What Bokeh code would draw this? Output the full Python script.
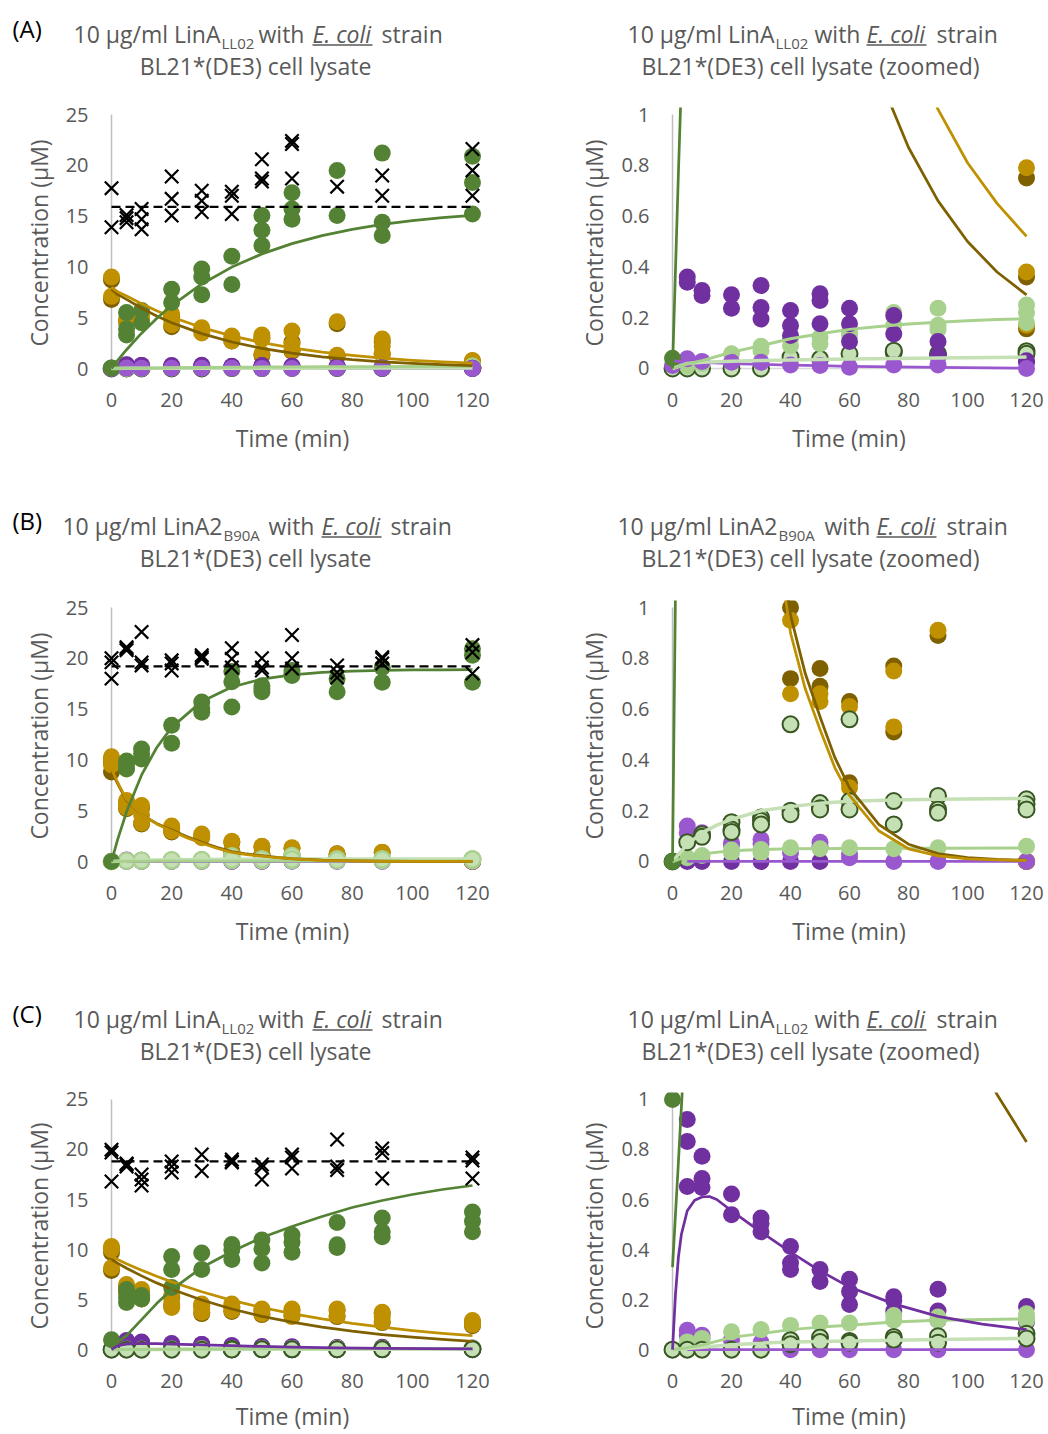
from bokeh.plotting import figure
from bokeh.layouts import column, row
from bokeh.models import Range1d, FixedTicker, NumeralTickFormatter
from bokeh.core.properties import value
from bokeh.embed import file_html
from bokeh.resources import INLINE

FONT = "Open Sans"
GREY = "#595959"
GREEN = "#548235"
GOLD = "#BF9000"
BROWN = "#7F6000"
PURPLE = "#7030A0"
LILAC = "#9A58CE"
LIGHT = "#A9D18E"
PALE = "#C5E0B4"
EDGE = "#385723"

TICKS_X = [0, 20, 40, 60, 80, 100, 120]
TICKS_FULL = [0, 5, 10, 15, 20, 25]
TICKS_ZOOM = [0, 0.2, 0.4, 0.6, 0.8, 1]

# ---------------- (A) LinA_LL02 ----------------
a_total_t = [0, 0, 5, 5, 5, 10, 10, 10, 20, 20, 20, 30, 30, 30, 40, 40, 40, 50, 50, 50, 60, 60, 60, 75, 90, 90, 120, 120, 120]
a_total = [17.75, 13.9, 15.1, 14.8, 14.4, 15.7, 14.7, 13.7, 18.9, 16.7, 15.05, 17.5, 16.5, 15.4, 17.4, 17.0, 15.2, 20.6, 18.7, 18.4, 22.4, 22.1, 18.7, 17.9, 19.0, 17.0, 21.6, 19.5, 17.0]
a_mean_t = [0, 120]
a_mean = [15.9, 15.9]
a_green_t = [0, 5, 5, 5, 10, 10, 20, 20, 30, 30, 30, 40, 40, 50, 50, 50, 60, 60, 60, 75, 75, 90, 90, 90, 120, 120, 120]
a_green = [0.04, 5.5, 3.9, 3.3, 5.7, 4.5, 7.8, 6.5, 9.8, 9.0, 7.25, 11.06, 8.27, 15.06, 13.6, 12.1, 17.3, 15.7, 14.7, 19.5, 15.06, 21.2, 14.4, 13.1, 20.9, 18.3, 15.2]
a_gold_t = [0, 0, 5, 5, 10, 10, 20, 20, 20, 30, 30, 40, 40, 40, 50, 50, 50, 60, 60, 60, 75, 75, 90, 90, 90, 120, 120, 120]
a_gold = [9.0, 7.1, 4.9, 4.5, 5.2, 4.8, 5.4, 4.8, 4.3, 4.0, 3.5, 3.2, 2.9, 2.7, 3.3, 2.9, 1.45, 3.7, 2.4, 1.8, 4.6, 1.3, 2.9, 2.2, 1.5, 0.79, 0.38, 0.17]
a_brown_t = [0, 0, 5, 10, 20, 20, 30, 40, 50, 50, 60, 60, 75, 75, 90, 90, 120, 120, 120]
a_brown = [8.7, 6.8, 4.7, 4.6, 5.1, 4.1, 3.8, 2.7, 3.0, 1.3, 2.6, 1.7, 4.4, 1.2, 2.6, 1.4, 0.75, 0.36, 0.156]
a_purple_t = [5, 5, 10, 10, 20, 20, 30, 30, 30, 40, 40, 40, 50, 50, 50, 60, 60, 60, 75, 75, 90, 90, 120, 120]
a_purple = [0.36, 0.34, 0.307, 0.287, 0.29, 0.237, 0.327, 0.24, 0.195, 0.228, 0.169, 0.13, 0.294, 0.268, 0.176, 0.237, 0.176, 0.106, 0.209, 0.136, 0.106, 0.051, 0.03, 0.025]
a_lilac_t = [0, 5, 10, 20, 30, 40, 50, 60, 75, 90, 120]
a_lilac = [0.012, 0.038, 0.028, 0.025, 0.025, 0.014, 0.012, 0.005, 0.014, 0.014, 0.0]
a_light_t = [5, 10, 20, 30, 30, 40, 40, 50, 50, 60, 60, 75, 75, 90, 90, 90, 120, 120, 120]
a_light = [0.01, 0.02, 0.058, 0.088, 0.07, 0.117, 0.09, 0.123, 0.097, 0.143, 0.13, 0.22, 0.17, 0.237, 0.154, 0.17, 0.25, 0.22, 0.18]
a_pale_t = [0, 5, 10, 20, 30, 40, 50, 60, 75, 75, 90, 90, 120, 120]
a_pale = [0, 0, 0, 0, 0, 0.045, 0.038, 0.058, 0.064, 0.07, 0.058, 0.05, 0.068, 0.058]
# fitted curves
a_fit_t = [0, 2, 5, 10, 15, 20, 30, 40, 50, 60, 70, 80, 90, 100, 110, 120]
a_fit_green = [0, 0.77, 1.85, 3.48, 4.92, 6.20, 8.32, 9.98, 11.28, 12.29, 13.08, 13.70, 14.18, 14.56, 14.85, 15.08]
a_fit_gold = [8.0, 7.55, 7.14, 6.37, 5.68, 5.07, 4.03, 3.21, 2.55, 2.03, 1.62, 1.29, 1.02, 0.81, 0.65, 0.52]
a_fit_brown = [7.8, 7.3, 6.80, 5.93, 5.17, 4.51, 3.43, 2.61, 1.98, 1.51, 1.15, 0.87, 0.66, 0.50, 0.38, 0.29]
a_fit_light_t = [0, 5, 10, 20, 30, 40, 50, 60, 70, 80, 90, 100, 110, 120]
a_fit_light = [0, 0.018, 0.031, 0.064, 0.09, 0.117, 0.137, 0.154, 0.165, 0.175, 0.182, 0.188, 0.193, 0.196]
a_fit_pale_t = [0, 5, 10, 20, 30, 40, 60, 90, 120]
a_fit_pale = [0, 0.02, 0.025, 0.029, 0.031, 0.033, 0.037, 0.041, 0.045]
a_fit_lilac_t = [0, 5, 10, 20, 30, 40, 50, 60, 75, 90, 120]
a_fit_lilac = [0.03, 0.027, 0.024, 0.019, 0.016, 0.013, 0.011, 0.008, 0.006, 0.004, 0.001]

# ---------------- (B) LinA2_B90A ----------------
b_total_t = [0, 0, 0, 5, 5, 5, 10, 10, 10, 20, 20, 20, 30, 30, 30, 40, 40, 40, 50, 50, 50, 60, 60, 60, 75, 75, 75, 90, 90, 90, 120, 120, 120]
b_total = [20.0, 19.6, 18.0, 21.1, 20.95, 20.8, 22.6, 19.6, 19.3, 19.8, 19.5, 18.8, 20.3, 20.1, 19.95, 21.0, 19.95, 19.1, 20.0, 19.1, 18.8, 22.3, 20.0, 19.0, 19.3, 18.6, 18.1, 20.1, 19.95, 19.5, 21.3, 20.6, 18.5]
b_mean_t = [0, 120]
b_mean = [19.2, 19.2]
b_green_t = [0, 5, 5, 5, 10, 10, 10, 20, 20, 30, 30, 30, 40, 40, 40, 50, 50, 50, 60, 60, 60, 75, 75, 90, 90, 120, 120, 120]
b_green = [0, 9.9, 9.6, 9.1, 11.07, 10.6, 10.1, 13.4, 11.65, 15.7, 15.0, 14.7, 18.7, 17.7, 15.2, 17.3, 17.0, 16.7, 18.8, 18.5, 18.3, 18.0, 16.7, 19.1, 17.65, 20.95, 20.3, 17.65]
b_gold_t = [0, 0, 0, 5, 5, 5, 10, 10, 10, 20, 20, 20, 30, 30, 40, 40, 40, 50, 50, 50, 60, 60, 60, 75, 75, 90, 120, 120, 120]
b_gold = [10.3, 10.0, 9.5, 6.0, 5.6, 5.3, 5.5, 4.6, 3.8, 3.5, 3.2, 3.0, 2.7, 2.35, 2.0, 0.95, 0.66, 1.5, 0.66, 0.63, 1.35, 0.61, 0.29, 0.75, 0.53, 0.91, 0, 0, 0]
b_brown_t = [0, 0, 0, 5, 5, 10, 10, 20, 20, 30, 40, 40, 40, 50, 50, 50, 60, 60, 60, 75, 75, 90, 120, 120]
b_brown = [10.1, 9.7, 8.8, 5.8, 5.2, 5.3, 3.7, 3.3, 2.9, 2.5, 1.9, 1.0, 0.72, 1.45, 0.76, 0.69, 1.3, 0.63, 0.31, 0.77, 0.51, 0.89, 0, 0]
b_purple_t = [5, 10, 20, 30, 40, 50]
b_purple = [0, 0, 0, 0, 0, 0]
b_lilac_t = [5, 5, 10, 10, 20, 20, 30, 30, 40, 50, 50, 60, 60, 75, 90, 120]
b_lilac = [0.14, 0.113, 0.113, 0.1, 0.074, 0.065, 0.087, 0.07, 0.034, 0.076, 0.06, 0.015, 0.03, 0, 0, 0]
b_light_t = [0, 5, 10, 20, 20, 30, 30, 40, 50, 60, 75, 90, 120]
b_light = [0, 0.015, 0.024, 0.045, 0.034, 0.047, 0.034, 0.054, 0.05, 0.054, 0.05, 0.054, 0.06]
b_pale_t = [0, 5, 10, 10, 20, 20, 20, 30, 30, 30, 40, 40, 40, 50, 50, 50, 60, 60, 60, 75, 75, 90, 90, 90, 120, 120, 120]
b_pale = [0, 0.076, 0.107, 0.097, 0.155, 0.126, 0.116, 0.173, 0.16, 0.146, 0.54, 0.2, 0.186, 0.23, 0.21, 0.205, 0.56, 0.238, 0.205, 0.238, 0.146, 0.258, 0.205, 0.192, 0.245, 0.225, 0.205]
b_fit_green_t = [0, 2, 5, 10, 15, 20, 30, 40, 50, 60, 70, 80, 90, 100, 110, 120]
b_fit_green = [0, 2.13, 4.89, 8.52, 11.2, 13.2, 15.76, 17.18, 17.95, 18.38, 18.61, 18.74, 18.81, 18.85, 18.87, 18.88]
b_fit_decay_t = [0, 2, 5, 10, 15, 20, 25, 30, 35, 40, 45, 50, 55, 60, 70, 80, 90, 100, 110, 120]
b_fit_gold = [9.1, 7.8, 6.1, 4.6, 3.7, 3.0, 2.35, 1.8, 1.3, 0.9, 0.68, 0.52, 0.37, 0.26, 0.12, 0.05, 0.022, 0.01, 0.006, 0.004]
b_fit_brown = [8.9, 7.7, 6.0, 4.6, 3.75, 3.1, 2.45, 1.9, 1.4, 0.97, 0.74, 0.57, 0.41, 0.29, 0.145, 0.068, 0.031, 0.015, 0.008, 0.005]
b_fit_pale_t = [0, 5, 10, 15, 20, 30, 40, 50, 60, 75, 90, 120]
b_fit_pale = [0, 0.067, 0.113, 0.143, 0.166, 0.2, 0.216, 0.229, 0.237, 0.242, 0.245, 0.248]
b_fit_light_t = [0, 5, 10, 20, 30, 40, 60, 90, 120]
b_fit_light = [0, 0.02, 0.03, 0.042, 0.047, 0.05, 0.051, 0.052, 0.053]
b_fit_lilac_t = [5, 120]
b_fit_lilac = [0, 0]

# ---------------- (C) LinA_LL02 ----------------
c_total_t = [0, 0, 0, 5, 5, 5, 10, 10, 10, 20, 20, 20, 30, 30, 40, 40, 40, 50, 50, 50, 60, 60, 60, 75, 75, 75, 90, 90, 90, 120, 120, 120]
c_total = [19.98, 19.7, 16.8, 18.5, 18.3, 18.6, 17.5, 17.0, 16.4, 18.8, 18.3, 17.7, 19.5, 17.85, 19.0, 18.8, 18.7, 18.5, 18.2, 17.0, 19.5, 19.2, 18.1, 21.0, 18.3, 17.95, 20.1, 19.65, 17.1, 19.2, 18.9, 17.1]
c_mean_t = [0, 120]
c_mean = [18.8, 18.8]
c_green_t = [0, 5, 5, 5, 10, 10, 20, 20, 20, 30, 30, 40, 40, 40, 50, 50, 50, 60, 60, 60, 75, 75, 75, 90, 90, 90, 120, 120, 120]
c_green = [1.0, 6.0, 5.2, 4.7, 5.4, 5.05, 9.3, 8.0, 6.2, 9.65, 8.0, 10.5, 9.97, 9.0, 10.96, 10.07, 8.66, 11.45, 10.73, 9.74, 12.7, 10.47, 10.2, 13.16, 11.78, 11.29, 13.75, 12.83, 11.78]
c_gold_t = [0, 0, 0, 5, 5, 10, 10, 10, 20, 20, 20, 30, 30, 30, 40, 40, 40, 50, 50, 60, 60, 60, 75, 75, 90, 90, 90, 120, 120]
c_gold = [10.3, 9.97, 8.17, 6.5, 5.9, 6.0, 5.4, 5.05, 5.4, 4.56, 4.2, 4.56, 4.07, 3.74, 4.56, 4.2, 3.9, 4.07, 3.58, 4.07, 3.58, 3.3, 4.07, 3.4, 3.74, 3.25, 2.76, 2.92, 2.5]
c_brown_t = [0, 0, 0, 5, 5, 10, 10, 20, 20, 30, 30, 40, 40, 50, 50, 60, 60, 75, 75, 90, 90, 120, 120]
c_brown = [10.1, 9.7, 7.9, 6.3, 5.7, 5.8, 5.2, 5.2, 4.4, 4.4, 3.6, 4.3, 3.8, 3.9, 3.5, 3.9, 3.4, 3.9, 3.3, 3.6, 2.7, 2.8, 2.4]
c_purple_t = [5, 5, 5, 10, 10, 10, 20, 20, 30, 30, 30, 40, 40, 40, 50, 50, 60, 60, 60, 75, 75, 75, 90, 90, 90, 120, 120]
c_purple = [0.92, 0.832, 0.652, 0.773, 0.684, 0.648, 0.622, 0.539, 0.526, 0.504, 0.471, 0.412, 0.346, 0.32, 0.32, 0.272, 0.281, 0.232, 0.18, 0.211, 0.196, 0.154, 0.241, 0.154, 0.117, 0.172, 0.11]
c_lilac_t = [0, 5, 5, 10, 10, 20, 30, 40, 50, 60, 75, 90, 120]
c_lilac = [0, 0.077, 0.058, 0.058, 0.045, 0.038, 0.028, 0, 0, 0, 0, 0, 0]
c_light_t = [5, 10, 20, 30, 40, 50, 60, 75, 75, 90, 90, 120, 120, 120]
c_light = [0.031, 0.045, 0.071, 0.08, 0.097, 0.106, 0.106, 0.136, 0.117, 0.13, 0.117, 0.143, 0.117, 0.13]
c_pale_t = [0, 5, 10, 20, 30, 40, 40, 40, 50, 50, 60, 60, 75, 75, 90, 90, 120, 120]
c_pale = [0, 0, 0, 0, 0, 0.031, 0.038, 0.022, 0.049, 0.031, 0.035, 0.028, 0.051, 0.04, 0.054, 0.028, 0.064, 0.045]
c_fit_t = [0, 2, 5, 10, 15, 20, 30, 40, 50, 60, 70, 80, 90, 100, 110, 120]
c_fit_green = [0.33, 0.75, 1.4, 3.0, 4.6, 6.0, 8.2, 9.8, 11.2, 12.3, 13.3, 14.2, 14.9, 15.5, 16.0, 16.4]
c_fit_gold = [9.3, 9.01, 8.59, 7.94, 7.33, 6.77, 5.78, 4.93, 4.21, 3.59, 3.07, 2.62, 2.24, 1.91, 1.63, 1.40]
c_fit_brown = [9.0, 8.65, 8.13, 7.37, 6.67, 6.04, 4.96, 4.06, 3.33, 2.74, 2.25, 1.84, 1.51, 1.24, 1.02, 0.83]
c_fit_purple_t = [0, 1, 2, 3, 5, 7.5, 10, 12.5, 15, 20, 30, 40, 50, 60, 75, 90, 105, 120]
c_fit_purple = [0, 0.22, 0.37, 0.46, 0.555, 0.597, 0.61, 0.612, 0.6, 0.555, 0.47, 0.39, 0.315, 0.25, 0.183, 0.133, 0.102, 0.08]
c_fit_light_t = [0, 5, 10, 20, 30, 40, 50, 60, 75, 90, 120]
c_fit_light = [0, 0.008, 0.018, 0.049, 0.064, 0.08, 0.09, 0.097, 0.11, 0.117, 0.123]
c_fit_pale_t = [0, 5, 10, 20, 30, 40, 60, 90, 120]
c_fit_pale = [0, 0.005, 0.01, 0.02, 0.026, 0.031, 0.035, 0.041, 0.045]
c_fit_lilac_t = [5, 120]
c_fit_lilac = [0, 0]

row_a = dict(
    total=(a_total_t, a_total), mean=(a_mean_t, a_mean), green=(a_green_t, a_green),
    gold=(a_gold_t, a_gold), brown=(a_brown_t, a_brown), purple=(a_purple_t, a_purple),
    lilac=(a_lilac_t, a_lilac), light=(a_light_t, a_light), pale=(a_pale_t, a_pale),
    fit_green=(a_fit_t, a_fit_green), fit_gold=(a_fit_t, a_fit_gold), fit_brown=(a_fit_t, a_fit_brown),
    fit_light=(a_fit_light_t, a_fit_light), fit_pale=(a_fit_pale_t, a_fit_pale),
    fit_lilac=(a_fit_lilac_t, a_fit_lilac),
)
row_b = dict(
    total=(b_total_t, b_total), mean=(b_mean_t, b_mean), green=(b_green_t, b_green),
    gold=(b_gold_t, b_gold), brown=(b_brown_t, b_brown), purple=(b_purple_t, b_purple),
    lilac=(b_lilac_t, b_lilac), light=(b_light_t, b_light), pale=(b_pale_t, b_pale),
    fit_green=(b_fit_green_t, b_fit_green), fit_gold=(b_fit_decay_t, b_fit_gold),
    fit_brown=(b_fit_decay_t, b_fit_brown), fit_light=(b_fit_light_t, b_fit_light),
    fit_pale=(b_fit_pale_t, b_fit_pale), fit_lilac=(b_fit_lilac_t, b_fit_lilac),
)
row_c = dict(
    total=(c_total_t, c_total), mean=(c_mean_t, c_mean), green=(c_green_t, c_green),
    gold=(c_gold_t, c_gold), brown=(c_brown_t, c_brown), purple=(c_purple_t, c_purple),
    lilac=(c_lilac_t, c_lilac), light=(c_light_t, c_light), pale=(c_pale_t, c_pale),
    fit_green=(c_fit_t, c_fit_green), fit_gold=(c_fit_t, c_fit_gold), fit_brown=(c_fit_t, c_fit_brown),
    fit_purple=(c_fit_purple_t, c_fit_purple), fit_light=(c_fit_light_t, c_fit_light),
    fit_pale=(c_fit_pale_t, c_fit_pale), fit_lilac=(c_fit_lilac_t, c_fit_lilac),
)

ORDER_A = ["brown", "gold", "pale", "light", "purple", "lilac", "green"]
ORDER_BC = ["brown", "gold", "purple", "lilac", "light", "pale", "green"]

FRAME_H = 271
TITLE_H = 95


def title_panel(letter, enzyme, sub, second, pos):
    """Heading strip: its frame covers the whole canvas, one data unit per pixel (y downwards)."""
    t = figure(width=524, height=TITLE_H, x_range=Range1d(0, 524), y_range=Range1d(TITLE_H, 0),
               toolbar_location=None, output_backend="svg", min_border=0,
               x_axis_type=None, y_axis_type=None, outline_line_color=None)
    common = dict(text_font=value(FONT), text_color=GREY, text_baseline="alphabetic")
    t.text(x=[pos["sub"]], y=[33], text=[enzyme], text_align="right", text_font_size="23px", **common)
    t.text(x=[pos["sub"] + 1], y=[42], text=[sub], text_align="left", text_font_size="15px", **common)
    t.text(x=[pos["with"]], y=[33], text=["with"], text_align="left", text_font_size="23px", **common)
    t.text(x=[pos["eco"]], y=[33], text=["E. coli"], text_align="left", text_font_size="23px",
           text_font_style="italic", **common)
    t.segment(x0=[pos["eco"]], y0=[44.5], x1=[pos["eco"] + 60], y1=[44.5], line_color=GREY, line_width=1.5)
    t.text(x=[pos["strain"]], y=[33], text=["strain"], text_align="left", text_font_size="23px", **common)
    t.text(x=[pos["mid"]], y=[65], text=[second], text_align="center", text_font_size="23px", **common)
    if letter:
        t.text(x=[12], y=[27.5], text=[letter], text_align="left", text_font_size="24px",
               text_font=value(FONT), text_color="black", text_baseline="alphabetic")
    return t


def panel(rd, zoom, height, top, label_gap, pale_edge, order):
    if zoom:
        xr, yr, ml, mr, yt = Range1d(-4.75, 124.4), Range1d(-0.0394, 1.0276), 134, 9, TICKS_ZOOM
    else:
        xr, yr, ml, mr, yt = Range1d(-4.99, 125.33), Range1d(-0.984, 25.69), 96, 36, TICKS_FULL
    bottom = height - top - FRAME_H
    p = figure(width=524, height=height, x_range=xr, y_range=yr, toolbar_location=None,
               output_backend="svg", min_border_left=ml, min_border_right=mr,
               min_border_top=top, min_border_bottom=bottom, outline_line_color=None)
    p.grid.visible = False
    p.xaxis.ticker = FixedTicker(ticks=TICKS_X)
    p.yaxis.ticker = FixedTicker(ticks=yt)
    if zoom:
        p.yaxis.formatter = NumeralTickFormatter(format="0.[0]")
    p.xaxis.axis_label = "Time (min)"
    p.yaxis.axis_label = "Concentration (µM)"
    for ax in (p.xaxis[0], p.yaxis[0]):
        ax.axis_line_color = None
        ax.major_tick_line_color = None
        ax.minor_tick_line_color = None
        ax.major_tick_out = 0
        ax.major_tick_in = 0
        ax.major_label_text_font = FONT
        ax.major_label_text_font_size = "20px"
        ax.major_label_text_color = GREY
        ax.axis_label_text_font = FONT
        ax.axis_label_text_font_size = "23px"
        ax.axis_label_text_color = GREY
        ax.axis_label_text_font_style = "normal"
    p.xaxis.major_label_standoff = 14
    p.yaxis.major_label_standoff = 9 if zoom else 8
    p.xaxis.axis_label_standoff = label_gap
    p.yaxis.axis_label_standoff = 8

    # axis lines
    p.segment(x0=[TICKS_X[0]], y0=[yt[0]], x1=[TICKS_X[0]], y1=[yt[-1]], line_color="#BFBFBF", line_width=1.5)
    p.segment(x0=[TICKS_X[0]], y0=[yt[0]], x1=[TICKS_X[-1]], y1=[yt[0]], line_color="#D9D9D9", line_width=1.5)

    styles = {
        "brown": dict(fill_color=BROWN, line_color=None, size=17),
        "gold": dict(fill_color=GOLD, line_color=None, size=17),
        "purple": dict(fill_color=PURPLE, line_color=None, size=17),
        "lilac": dict(fill_color=LILAC, line_color=None, size=17),
        "light": dict(fill_color=LIGHT, line_color=None, size=17),
        "pale": dict(fill_color=PALE, line_color=pale_edge, line_width=2, size=16),
        "green": dict(fill_color=GREEN, line_color=None, size=17),
    }
    for key in order:
        t, c = rd[key]
        p.scatter(t, c, marker="circle", **styles[key])

    fits = [("fit_lilac", LILAC, 2.75), ("fit_pale", PALE, 3.5), ("fit_light", LIGHT, 3),
            ("fit_purple", PURPLE, 2.75), ("fit_brown", BROWN, 2.75), ("fit_gold", GOLD, 2.75),
            ("fit_green", GREEN, 2.75)]
    for key, color, w in fits:
        if key in rd:
            t, c = rd[key]
            p.line(t, c, line_color=color, line_width=w, line_join="round")

    t, c = rd["total"]
    p.scatter(t, c, marker="x", size=19, line_color="black", line_width=2.2)
    t, c = rd["mean"]
    p.line(t, c, line_color="black", line_width=2.25, line_dash="9 5")
    return p


POS_L = {"sub": 220, "with": 258, "eco": 312, "strain": 381, "mid": 255}
POS_R = {"sub": 250, "with": 290, "eco": 342, "strain": 412, "mid": 286}
POS_L_B = {"sub": 222, "with": 268, "eco": 321, "strain": 390, "mid": 255}
POS_R_B = {"sub": 253, "with": 300, "eco": 352, "strain": 422, "mid": 286}

LYS = "BL21*(DE3) cell lysate"
LYS_Z = "BL21*(DE3) cell lysate (zoomed)"

tA_l = title_panel("(A)", "10 µg/ml LinA", "LL02", LYS, POS_L)
tA_r = title_panel(None, "10 µg/ml LinA", "LL02", LYS_Z, POS_R)
tB_l = title_panel("(B)", "10 µg/ml LinA2", "B90A", LYS, POS_L_B)
tB_r = title_panel(None, "10 µg/ml LinA2", "B90A", LYS_Z, POS_R_B)
tC_l = title_panel("(C)", "10 µg/ml LinA", "LL02", LYS, POS_L)
tC_r = title_panel(None, "10 µg/ml LinA", "LL02", LYS_Z, POS_R)

pA_l = panel(row_a, False, 397, 12, 12, EDGE, ORDER_A)
pA_r = panel(row_a, True, 397, 12, 12, EDGE, ORDER_A)
pB_l = panel(row_b, False, 398, 13, 12, LIGHT, ORDER_BC)
pB_r = panel(row_b, True, 398, 13, 12, EDGE, ORDER_BC)
pC_l = panel(row_c, False, 354, 12, 9, EDGE, ORDER_BC)
pC_r = panel(row_c, True, 354, 12, 9, EDGE, ORDER_BC)

layout = column(
    row(tA_l, tA_r),
    row(pA_l, pA_r),
    row(tB_l, tB_r),
    row(pB_l, pB_r),
    row(tC_l, tC_r),
    row(pC_l, pC_r),
)

open("out.html", "w").write(file_html(layout, INLINE))
